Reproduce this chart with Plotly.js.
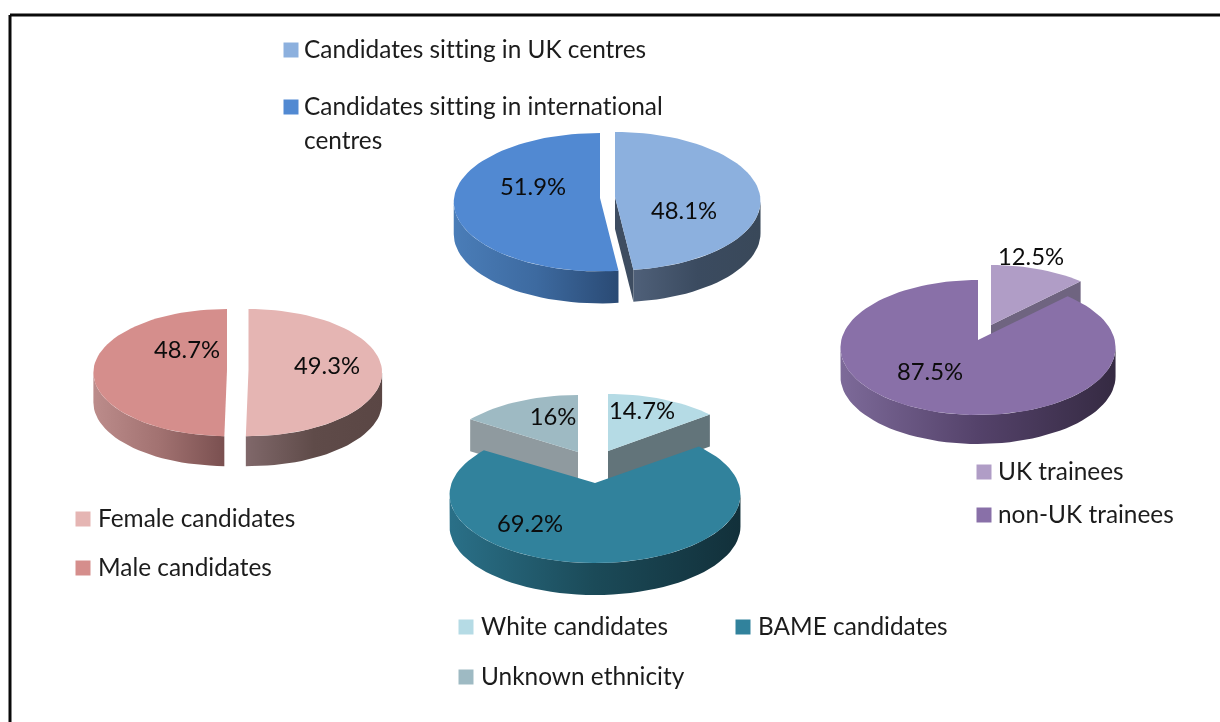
<!DOCTYPE html>
<html><head><meta charset="utf-8">
<script src="https://cdn.plot.ly/plotly-3.0.1.min.js"></script>
<style>html,body{margin:0;padding:0;background:#fff}#c{width:1220px;height:722px}.main-svg{filter:blur(.4px)}svg text{font-variant-ligatures:none;font-feature-settings:"liga" 0,"clig" 0}</style>
</head><body><div id="c"></div>
<script>
// ---- data ----
const centreLabels = ['Candidates sitting in UK centres', 'Candidates sitting in international centres'];
const centreValues = [48.1, 51.9];
const genderLabels = ['Female candidates', 'Male candidates'];
const genderValues = [49.3, 48.7];
const ethnicityLabels = ['White candidates', 'BAME candidates', 'Unknown ethnicity'];
const ethnicityValues = [14.7, 69.2, 16];
const traineeLabels = ['UK trainees', 'non-UK trainees'];
const traineeValues = [12.5, 87.5];

// ---- geometry and styling (pixels) ----
const FONT = 'Lato, Carlito, sans-serif';
const pies = [
 {labels:centreLabels, values:centreValues, rx:146, ry:69, k:.06, depth:32,
  centres:[[615,197],[600,198]], order:[0,1], scale:[.995,1],
  tops:['#8CB0DE','#5189D2'],
  walls:[['#4F6079','#3B4B60','#394859'],['#4A7DB8','#3D6AA0','#2A4A74']],
  radial:['#3E4D61',null],
  text:[[684,213],[533,189]]},
 {labels:genderLabels, values:genderValues, rx:133.5, ry:63.5, k:.04, depth:30,
  centres:[[248.5,370],[227,370]], order:[0,1], scale:[1,1],
  tops:['#E5B5B3','#D58E8C'],
  walls:[['#80686A','#5F4B49','#5A4644'],['#BC8C8B','#A27271','#7A5050']],
  radial:[null,null],
  text:[[327,368],[187,352]]},
 {labels:ethnicityLabels, values:ethnicityValues, rx:143.4, ry:66.6, k:.168, depth:32,
  centres:[[608,451],[595,483],[578,452]], order:[0,2,1], scale:[.98,1,.97],
  tops:['#B5DBE5','#31829C','#9EBAC3'],
  walls:[['#62747A','#62747A','#62747A'],['#2A7088','#1B4A58','#12303A'],['#8F9A9F','#8F9A9F','#8F9A9F']],
  radial:['#62747A',null,'#8F9A9F'],
  text:[[642,413],[530,526],[553,419]]},
 {labels:traineeLabels, values:traineeValues, rx:136.7, ry:66.7, k:.111, depth:29,
  centres:[[991,325],[978,340]], order:[0,1], scale:[1,1],
  tops:['#B09DC6','#8970A8'],
  walls:[['#6F6480','#6F6480','#6F6480'],['#7D6A99','#54426A','#352A42']],
  radial:['#6F6480',null],
  text:[[1031,259],[930,374]]}
];
const legendItems = [
 {pie:0,i:0,x:291,y:50,tx:304,ty:52},{pie:0,i:1,x:291,y:107,tx:304,ty:109},
 {pie:1,i:0,x:83,y:519,tx:98,ty:521},{pie:1,i:1,x:83,y:568,tx:98,ty:570},
 {pie:2,i:0,x:466,y:627,tx:481,ty:629},{pie:2,i:1,x:743,y:627,tx:758,ty:629},{pie:2,i:2,x:466,y:677,tx:481,ty:679},
 {pie:3,i:0,x:984,y:472,tx:998,ty:474},{pie:3,i:1,x:984,y:515,tx:998,ty:517}
];
const wrapped = {'Candidates sitting in international centres':['Candidates sitting in international','centres']};
const LINE_GAP = 34;

// perspective projection of the disc onto the page
function project(p, c, theta, sc){
  const u = Math.sin(theta), v = Math.cos(theta), s = 1/(1+p.k*v);
  return [c[0]+p.rx*sc*u*s, c[1]-p.ry*v*s];
}
function arc(p, c, a0, a1, sc){
  const n = Math.max(2, Math.ceil(Math.abs(a1-a0)*60/Math.PI)), out=[];
  for(let j=0;j<=n;j++) out.push(project(p,c,a0+(a1-a0)*j/n,sc));
  return out;
}
function poly(pts, style){
  const xs=pts.map(q=>q[0]).concat(pts[0][0]), ys=pts.map(q=>q[1]).concat(pts[0][1]);
  return Object.assign({type:'scatter',mode:'lines',x:xs,y:ys,fill:'toself',line:{width:0},
    hoverinfo:'skip',showlegend:false}, style);
}
function grad(c){ return {type:'horizontal',colorscale:[[0,c[0]],[.5,c[1]],[1,c[2]]]}; }

const traces=[];
pies.forEach(p=>{
  const total=p.values.reduce((a,b)=>a+b,0); let acc=0;
  const spans=p.values.map(v=>{const a=acc/total*2*Math.PI; acc+=v; return [a,acc/total*2*Math.PI];});
  p.order.forEach(i=>{
    const c=p.centres[i], [a0,a1]=spans[i], sc=p.scale[i];
    // outer wall: only the part of the rim that faces the viewer
    const f0=Math.PI/2+Math.asin(p.k), f1=3*Math.PI/2-Math.asin(p.k);
    const w0=Math.max(a0,f0), w1=Math.min(a1,f1);
    if(w1>w0){
      const rim=arc(p,c,w0,w1,sc);
      const low=rim.slice().reverse().map(q=>[q[0],q[1]+p.depth]);
      traces.push(poly(rim.concat(low),{fillgradient:grad(p.walls[i])}));
    }
    // cut face of the slice that looks towards the viewer
    if(p.radial[i]){
      const end=project(p,c,a1<=Math.PI?a1:a0,sc);
      traces.push(poly([c,end,[end[0],end[1]+p.depth],[c[0],c[1]+p.depth]],{fillcolor:p.radial[i]}));
    }
    traces.push(poly([c].concat(arc(p,c,a0,a1,sc)),{fillcolor:p.tops[i]}));
  });
  traces.push({type:'scatter',mode:'text',x:p.text.map(t=>t[0]),y:p.text.map(t=>t[1]),
    text:p.values.map(v=>v+'%'),textposition:'middle center',
    textfont:{family:FONT,size:23.8,color:'#0c0c0c'},hoverinfo:'skip',showlegend:false});
});
legendItems.forEach(l=>{
  const p=pies[l.pie], name=p.labels[l.i], lines=wrapped[name]||[name];
  traces.push({type:'scatter',mode:'markers',x:[l.x],y:[l.y],
    marker:{symbol:'square',size:15,color:p.tops[l.i]},hoverinfo:'skip',showlegend:false});
  traces.push({type:'scatter',mode:'text',x:lines.map(()=>l.tx),y:lines.map((_,j)=>l.ty+j*LINE_GAP),
    text:lines,textposition:'middle right',
    textfont:{family:FONT,size:24.4,color:'#1c1c1c'},hoverinfo:'skip',showlegend:false});
});

const frame=[[10,722,10,15],[10,15,1220,15]].map(s=>({type:'line',xref:'x',yref:'y',
  x0:s[0],y0:s[1],x1:s[2],y1:s[3],line:{color:'#0a0a0a',width:3}}));
Plotly.newPlot('c',traces,{
  width:1220,height:722,margin:{l:0,r:0,t:0,b:0},paper_bgcolor:'#fff',plot_bgcolor:'#fff',showlegend:false,
  xaxis:{range:[0,1220],visible:false,fixedrange:true},
  yaxis:{range:[722,0],visible:false,fixedrange:true},
  shapes:frame
},{displayModeBar:false,staticPlot:true});
</script></body></html>
